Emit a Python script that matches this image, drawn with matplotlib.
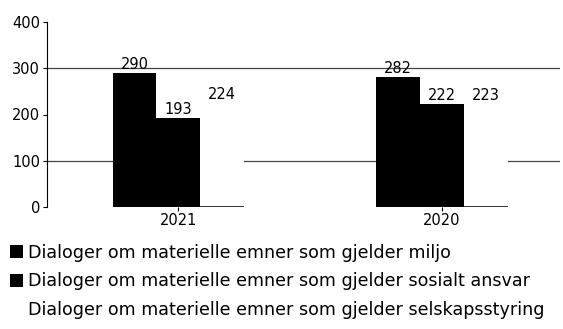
import matplotlib

matplotlib.use("Agg")
import matplotlib.pyplot as plt
import numpy as np
from matplotlib.patches import Patch

years = ["2021", "2020"]
series_names = [
    "Dialoger om materielle emner som gjelder miljo",
    "Dialoger om materielle emner som gjelder sosialt ansvar",
    "Dialoger om materielle emner som gjelder selskapsstyring",
]
miljo = [290, 282]
sosialt = [193, 222]
styring = [224, 223]
series_colors = ["black", "black", "white"]

fig = plt.figure(figsize=(5.63, 3.29), dpi=100)
ax = fig.add_axes([47 / 563, 122 / 329, 513 / 563, 185 / 329])

x = np.arange(len(years))
width = 0.166
for i, (vals, color) in enumerate(zip([miljo, sosialt, styring], series_colors)):
    bars = ax.bar(x + (i - 1) * width, vals, width, color=color,
                  edgecolor="none", zorder=3)
    for bar, v in zip(bars, vals):
        ax.text(bar.get_x() + bar.get_width() / 2, v + 2, str(v),
                ha="center", va="bottom", fontsize=10.5, zorder=4)
        if color == "white":
            # white bars still show a thin base line
            ax.plot([bar.get_x(), bar.get_x() + bar.get_width()], [0, 0],
                    color="#222222", lw=1.3, zorder=4, solid_capstyle="butt")

for y in [100, 300]:
    ax.axhline(y, color="#444444", lw=0.9, zorder=1)

ax.set_ylim(0, 400)
ax.set_xlim(-0.498, 1.447)
ax.set_yticks([0, 100, 200, 300, 400])
ax.set_xticks(x)
ax.set_xticklabels(years)
ax.tick_params(axis="both", labelsize=10.5, length=3, width=0.8, pad=2)
ax.tick_params(axis="x", pad=1)
for side in ["top", "right", "bottom"]:
    ax.spines[side].set_visible(False)
ax.spines["left"].set_linewidth(0.8)

handles = [Patch(facecolor=c, edgecolor="none") for c in series_colors]
fig.legend(handles, series_names, loc="upper left",
           bbox_to_anchor=(3 / 563, 1 - 237 / 329), frameon=False,
           fontsize=12.6, handlelength=0.75, handleheight=0.75,
           handletextpad=0.3, labelspacing=0.6, borderaxespad=0)

fig.savefig("out.png", dpi=100)
